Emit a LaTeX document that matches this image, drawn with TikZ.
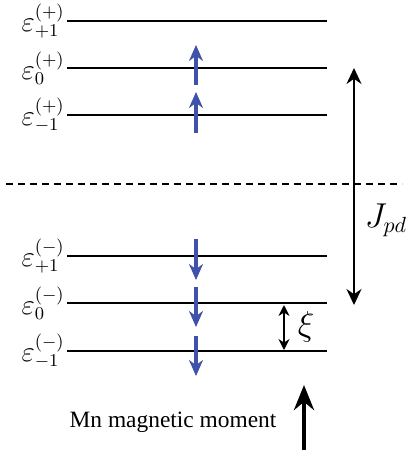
\documentclass[tikz,border=0pt]{standalone}
\usepackage{fontspec}
\setmainfont{Liberation Serif}
\usepackage{tikz}
\usetikzlibrary{positioning,arrows.meta}
\definecolor{spinblue}{RGB}{62,82,170}
\tikzset{
levelline/.style={
line width=1pt
},
lvllabel/.style={
anchor=east,
inner sep=1pt,
font=\fontsize{13.5}{16}\selectfont
},
spin/.style={
-{Stealth[length=8pt,width=7pt]},
line width=1.7pt,
draw=spinblue,
fill=spinblue
},
gap/.style={
{Stealth[length=8pt,width=7.5pt]}-{Stealth[length=8pt,width=7.5pt]},
line width=1pt
},
smallgap/.style={
{Stealth[length=5.5pt,width=5.5pt]}-{Stealth[length=5.5pt,width=5.5pt]},
line width=0.9pt
},
moment/.style={
-{Stealth[length=12.5pt,width=10pt]},
line width=2.4pt
}
}
\begin{document}
\begin{tikzpicture}[x=0.5pt,y=-0.5pt]
\useasboundingbox (0,0) rectangle (407,456);
% energy levels
\foreach \name/\yy in {pp/21,pz/68,pm/115,mp/256,mz/303,mm/351}{
\coordinate (\name L) at (67,\yy);
\coordinate (\name R) at (327,\yy);
\draw[levelline] (\name L) -- (\name R);
}
\node[lvllabel] (lpp) at (ppL) {$\varepsilon^{(+)}_{+1}$};
\node[lvllabel] (lpz) at (pzL) {$\varepsilon^{(+)}_{0}$};
\node[lvllabel] (lpm) at (pmL) {$\varepsilon^{(+)}_{-1}$};
\node[lvllabel] (lmp) at (mpL) {$\varepsilon^{(-)}_{+1}$};
\node[lvllabel] (lmz) at (mzL) {$\varepsilon^{(-)}_{0}$};
\node[lvllabel] (lmm) at (mmL) {$\varepsilon^{(-)}_{-1}$};

% Fermi level
\coordinate (fL) at (6,184);
\coordinate (fR) at (402,184);
\draw[line width=0.8pt,dash pattern=on 3.5pt off 2.5pt] (fL) -- (fR);

% spins
\foreach \name/\ya/\yb in {sa/85/45,sb/133/92,sc/239/280,sd/287/327,se/336/376}{
\coordinate (\name1) at (196,\ya);
\coordinate (\name2) at (196,\yb);
\draw[spin] (\name1) -- (\name2);
}

% exchange splitting
\coordinate (jT) at (354,68);
\coordinate (jB) at (354,305);
\draw[gap] (jT) -- (jB);
\node[font=\fontsize{16}{18}\selectfont] (jlab) at (386,220) {$J_{pd}$};

\coordinate (xT) at (284,305);
\coordinate (xB) at (284,350);
\draw[smallgap] (xT) -- (xB);
\node[font=\fontsize{16}{18}\selectfont] (xlab) at (306,327) {$\xi$};

% Mn moment
\node[font=\fontsize{11.7}{14}\selectfont,inner sep=0pt] (mn) at (173,422) {Mn magnetic moment};
\coordinate (mT) at (304,385);
\coordinate (mB) at (304,450);
\draw[moment] (mB) -- (mT);
\end{tikzpicture}
\end{document}
